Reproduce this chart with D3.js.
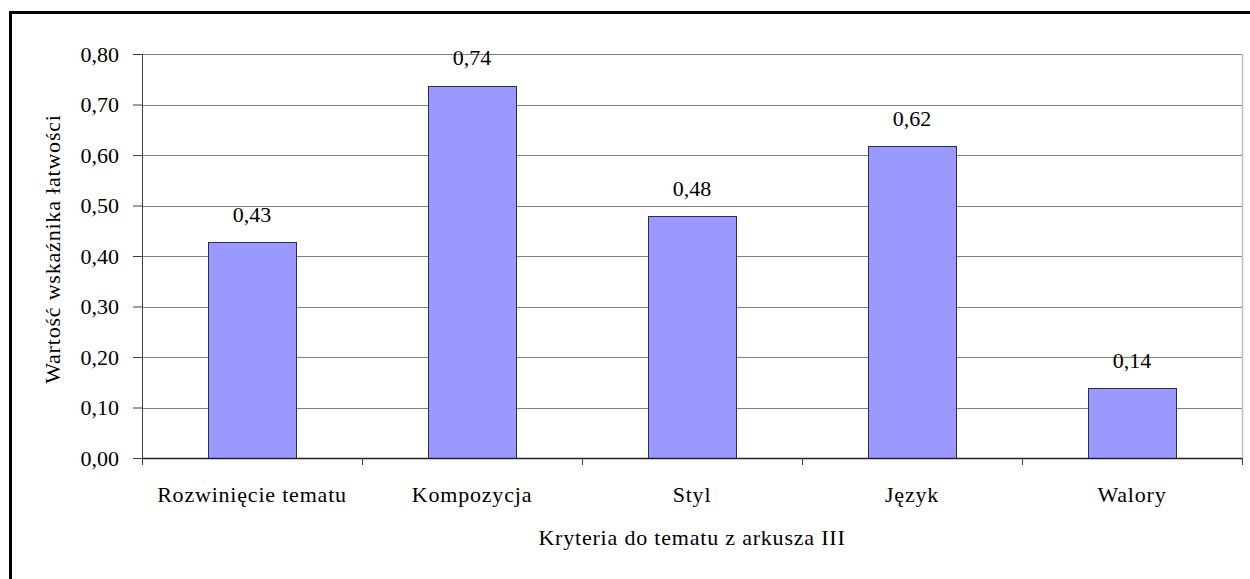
<!DOCTYPE html>
<html>
<head>
<meta charset="utf-8">
<script src="https://cdnjs.cloudflare.com/ajax/libs/d3/7.8.5/d3.min.js"></script>
<style>
  body { margin: 0; background: #fff; }
  svg text { font-family: "Liberation Serif", "Times New Roman", "DejaVu Serif", serif; fill: #000; }
</style>
</head>
<body>
<div id="chart"></div>
<script>
// data
var categories = ["Rozwinięcie tematu", "Kompozycja", "Styl", "Język", "Walory"];
var values = [0.427, 0.737, 0.479, 0.617, 0.138];
var yTicks = [0, 0.1, 0.2, 0.3, 0.4, 0.5, 0.6, 0.7, 0.8];

var svgWidth = 1250;
var svgHeight = 579;
var serif = '"Liberation Serif", "Times New Roman", serif';

var margin = { top: 54, right: 8, bottom: 121, left: 142 };
var width = svgWidth - margin.left - margin.right;
var height = svgHeight - margin.top - margin.bottom;

var fmt = function(v) { return d3.format(".2f")(v).replace(".", ","); };

var svg = d3.select("#chart")
  .append("svg")
  .attr("width", svgWidth)
  .attr("height", svgHeight);

// outer frame (right and bottom edges fall outside the picture)
svg.append("rect")
  .attr("x", 10.5)
  .attr("y", 12.5)
  .attr("width", 1260)
  .attr("height", 600)
  .attr("fill", "none")
  .attr("stroke", "#000")
  .attr("stroke-width", 3);

var chartGroup = svg.append("g")
  .attr("transform", `translate(${margin.left}, ${margin.top})`);

var xScale = d3.scaleBand()
  .domain(categories)
  .range([0, width])
  .paddingInner(0.6)
  .paddingOuter(0.3);

var yScale = d3.scaleLinear()
  .domain([0, 0.8])
  .range([height, 0]);

// gridlines
chartGroup.selectAll(".grid")
  .data(yTicks.slice(1))
  .enter()
  .append("line")
  .attr("class", "grid")
  .attr("x1", 0)
  .attr("x2", width)
  .attr("y1", d => Math.round(yScale(d)) + 0.5)
  .attr("y2", d => Math.round(yScale(d)) + 0.5)
  .attr("stroke", "#808080")
  .attr("stroke-width", 1);

// right border of plot area
chartGroup.append("line")
  .attr("x1", width + 0.5)
  .attr("x2", width + 0.5)
  .attr("y1", 0)
  .attr("y2", height)
  .attr("stroke", "#c0c0c0")
  .attr("stroke-width", 1.5);

// bars
chartGroup.selectAll(".bar")
  .data(values)
  .enter()
  .append("rect")
  .attr("class", "bar")
  .attr("x", (d, i) => Math.round(xScale(categories[i])) + 0.5)
  .attr("y", d => Math.round(yScale(d)) + 0.5)
  .attr("width", xScale.bandwidth())
  .attr("height", d => height - Math.round(yScale(d)))
  .attr("fill", "#9999ff")
  .attr("stroke", "#2b2b55")
  .attr("stroke-width", 1);

// value labels
chartGroup.selectAll(".val")
  .data(values)
  .enter()
  .append("text")
  .attr("class", "val")
  .attr("x", (d, i) => xScale(categories[i]) + xScale.bandwidth() / 2)
  .attr("y", d => yScale(d) - 20.5)
  .attr("text-anchor", "middle")
  .style("font-family", serif)
  .style("font-size", "22px")
  .text(d => fmt(d));

// y axis
var leftAxis = d3.axisLeft(yScale)
  .tickValues(yTicks)
  .tickSize(9)
  .tickPadding(14)
  .tickFormat(fmt);

var yAxisG = chartGroup.append("g")
  .attr("font-family", serif)
  .call(leftAxis);
yAxisG.select(".domain").attr("stroke", "#404040");
yAxisG.selectAll(".tick line").attr("stroke", "#404040");
yAxisG.selectAll("text")
  .style("font-size", "22px")
  .style("font-family", serif);

// x axis: ticks at category boundaries
var boundaries = d3.range(categories.length + 1).map(i => i * xScale.step());
chartGroup.append("line")
  .attr("x1", 0)
  .attr("x2", width)
  .attr("y1", height + 0.5)
  .attr("y2", height + 0.5)
  .attr("stroke", "#202020")
  .attr("stroke-width", 1.5);
chartGroup.selectAll(".xtick")
  .data(boundaries)
  .enter()
  .append("line")
  .attr("class", "xtick")
  .attr("x1", d => Math.round(d) + 0.5)
  .attr("x2", d => Math.round(d) + 0.5)
  .attr("y1", height)
  .attr("y2", height + 7)
  .attr("stroke", "#404040");

chartGroup.selectAll(".xlabel")
  .data(categories)
  .enter()
  .append("text")
  .attr("class", "xlabel")
  .attr("x", d => xScale(d) + xScale.bandwidth() / 2)
  .attr("y", height + 44)
  .attr("text-anchor", "middle")
  .style("font-family", serif)
  .style("font-size", "22px")
  .style("letter-spacing", "0.8px")
  .text(d => d);

// axis titles
svg.append("text")
  .attr("x", margin.left + width / 2)
  .attr("y", 545)
  .attr("text-anchor", "middle")
  .style("font-family", serif)
  .style("font-size", "22px")
  .style("letter-spacing", "0.8px")
  .text("Kryteria do tematu z arkusza III");

svg.append("text")
  .attr("transform", "translate(60, 249) rotate(-90)")
  .attr("text-anchor", "middle")
  .style("font-family", serif)
  .style("font-size", "22px")
  .style("letter-spacing", "0.8px")
  .text("Wartość wskaźnika łatwości");
</script>
</body>
</html>
